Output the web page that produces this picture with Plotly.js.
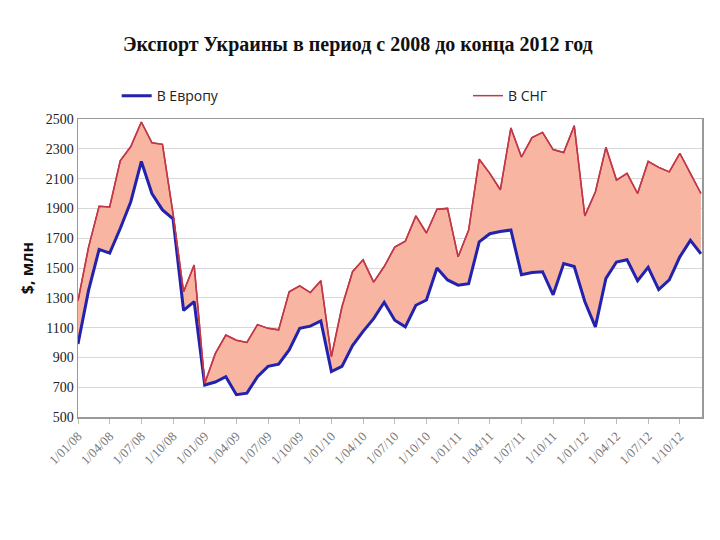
<!DOCTYPE html>
<html>
<head>
<meta charset="utf-8">
<script src="https://cdn.plot.ly/plotly-3.0.1.min.js"></script>
<style>
  html, body { margin: 0; padding: 0; background: #fff; }
  #chart { width: 720px; height: 540px; }
</style>
</head>
<body>
<div id="chart"></div>
<script>
// monthly export, Jan 2008 .. Dec 2012, $ mln
var europe = [
  990, 1350, 1625, 1600, 1765, 1945, 2215, 2000, 1890, 1830,
  1215, 1275, 715, 735, 770, 650, 660, 770, 840, 855,
  950, 1095, 1110, 1145, 805, 840, 980, 1075, 1160, 1270,
  1150, 1105, 1250, 1285, 1500, 1420, 1385, 1395, 1675, 1730,
  1745, 1755, 1455, 1470, 1475, 1320, 1530, 1510, 1275, 1105,
  1430, 1540, 1555, 1415, 1505, 1355, 1420, 1575, 1685, 1595
];
var cis = [
  1280, 1640, 1915, 1910, 2220, 2315, 2480, 2340, 2330, 1865,
  1340, 1520, 725, 925, 1050, 1015, 1000, 1120, 1095, 1085,
  1340, 1380, 1335, 1415, 905, 1240, 1475, 1555, 1405, 1510,
  1640, 1680, 1850, 1735, 1895, 1900, 1575, 1755, 2230, 2135,
  2025, 2440, 2245, 2375, 2410, 2295, 2275, 2455, 1850, 2010,
  2310, 2090, 2135, 2000, 2215, 2175, 2145, 2270, 2135, 2000
];
var tickLabels = [
  '1/01/08', '1/04/08', '1/07/08', '1/10/08',
  '1/01/09', '1/04/09', '1/07/09', '1/10/09',
  '1/01/10', '1/04/10', '1/07/10', '1/10/10',
  '1/01/11', '1/04/11', '1/07/11', '1/10/11',
  '1/01/12', '1/04/12', '1/07/12', '1/10/12'
];

var xIdx = europe.map(function (v, i) { return i; });
var tickPos = tickLabels.map(function (t, i) { return i * 3; });

var blue = '#2222ae';
var red = '#c23848';
var legendFont = { family: 'Open Sans, Liberation Sans, sans-serif', size: 14, color: '#222' };

var data = [
  {
    x: xIdx,
    y: europe,
    name: 'В Европу',
    type: 'scatter',
    mode: 'lines',
    legend: 'legend',
    line: { color: blue, width: 3 }
  },
  // band between the two lines
  {
    x: xIdx,
    y: cis,
    name: 'В СНГ',
    type: 'scatter',
    mode: 'lines',
    fill: 'tonexty',
    fillcolor: 'rgb(248,182,162)',
    showlegend: false,
    line: { color: red, width: 1.5 }
  },
  // same line again, only for the legend entry (no fill swatch)
  {
    x: xIdx,
    y: cis,
    name: 'В СНГ',
    type: 'scatter',
    mode: 'lines',
    legend: 'legend2',
    line: { color: red, width: 1.5 }
  }
];

var layout = {
  width: 720,
  height: 540,
  paper_bgcolor: '#fff',
  plot_bgcolor: '#fff',
  margin: { l: 78, r: 18, t: 119, b: 123 },
  title: {
    text: '<b>Экспорт Украины в период с 2008 до конца 2012 год</b>',
    font: { family: 'Liberation Serif, Times New Roman, serif', size: 20, color: '#111' },
    x: 0.497,
    xanchor: 'center',
    y: 0.918,
    yanchor: 'middle'
  },
  showlegend: true,
  legend: {
    orientation: 'h',
    x: 0.062,
    xanchor: 'left',
    y: 1.077,
    yanchor: 'middle',
    font: legendFont,
    bgcolor: 'rgba(0,0,0,0)'
  },
  legend2: {
    orientation: 'h',
    x: 0.625,
    xanchor: 'left',
    y: 1.077,
    yanchor: 'middle',
    font: legendFont,
    bgcolor: 'rgba(0,0,0,0)'
  },
  xaxis: {
    range: [0, 59.1],
    tickvals: tickPos,
    ticktext: tickLabels,
    tickangle: -45,
    ticks: 'outside',
    ticklen: 5,
    tickcolor: '#bbb',
    showgrid: false,
    zeroline: false,
    showline: true,
    linecolor: '#999',
    linewidth: 1.5,
    mirror: true,
    tickfont: { family: 'Liberation Serif, Times New Roman, serif', size: 13, color: '#777' }
  },
  yaxis: {
    range: [500, 2500],
    dtick: 200,
    tick0: 500,
    showgrid: true,
    gridcolor: '#d8d8d8',
    gridwidth: 1,
    zeroline: false,
    showline: true,
    linecolor: '#999',
    linewidth: 1.5,
    mirror: true,
    ticks: '',
    tickfont: { family: 'Liberation Serif, Times New Roman, serif', size: 14, color: '#222' },
    title: {
      text: '<b>$, млн</b>',
      font: { family: 'Open Sans, Liberation Sans, sans-serif', size: 16, color: '#111' },
      standoff: 8
    }
  }
};

Plotly.newPlot('chart', data, layout, { displayModeBar: false, staticPlot: true });
</script>
</body>
</html>
